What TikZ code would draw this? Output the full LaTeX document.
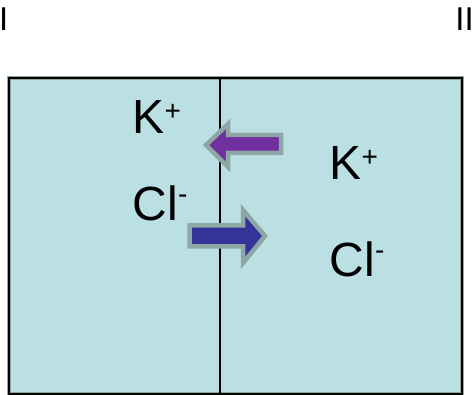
\documentclass[tikz,border=0pt]{standalone}
\usepackage{fontspec}
\setmainfont{Liberation Sans}
\definecolor{cellfill}{HTML}{BBE0E3}
\definecolor{arrowedge}{HTML}{8FA6A6}
\definecolor{kpurple}{HTML}{7030A0}
\definecolor{clblue}{HTML}{333399}
\newcommand{\ionsup}[1]{\raisebox{13pt}{\fontsize{28}{28}\selectfont #1}}
\newcommand{\ionsub}[1]{\raisebox{17pt}{\fontsize{28}{28}\selectfont #1}}
\begin{document}
\begin{tikzpicture}[x=1pt,y=-1pt,
  ion/.style={anchor=base west,inner sep=0pt,font=\fontsize{48}{48}\selectfont},
  side/.style={inner sep=0pt,font=\fontsize{33}{33}\selectfont},
  fluxarrow/.style={draw=arrowedge,line width=4.5pt,line join=miter,miter limit=10}]
\useasboundingbox (0,0) rectangle (474,395);
% container
\draw[arrowedge,line width=3.5pt,fill=cellfill] (9,78) rectangle (462,394);
\draw[black,line width=1.5pt] (9,78) rectangle (462,394);
\coordinate (mtop) at (220,78);
\coordinate (mbot) at (220,394);
\draw[black,line width=1.5pt] (mtop) -- (mbot);
% side labels
\node[side,anchor=base west] (labI) at (-1,31) {I};
\node[side,anchor=base east] (labII) at (474,31) {II};
% ions
\node[ion] (kleft) at (132.5,134) {K\ionsup{+}};
\node[ion] (clleft) at (132.6,221) {Cl\ionsub{-}};
\node[ion] (kright) at (329.5,180) {K\ionsup{+}};
\node[ion] (clright) at (329.6,277) {Cl\ionsub{-}};
% arrows
\filldraw[fluxarrow,fill=kpurple] (206,145) -- (228,124) -- (228,135) -- (281,135)
  -- (281,153) -- (228,153) -- (228,167) -- cycle;
\filldraw[fluxarrow,fill=clblue] (265,236) -- (243,210) -- (243,225.5) -- (189.5,225.5)
  -- (189.5,246.5) -- (243,246.5) -- (243,263) -- cycle;
\end{tikzpicture}
\end{document}
